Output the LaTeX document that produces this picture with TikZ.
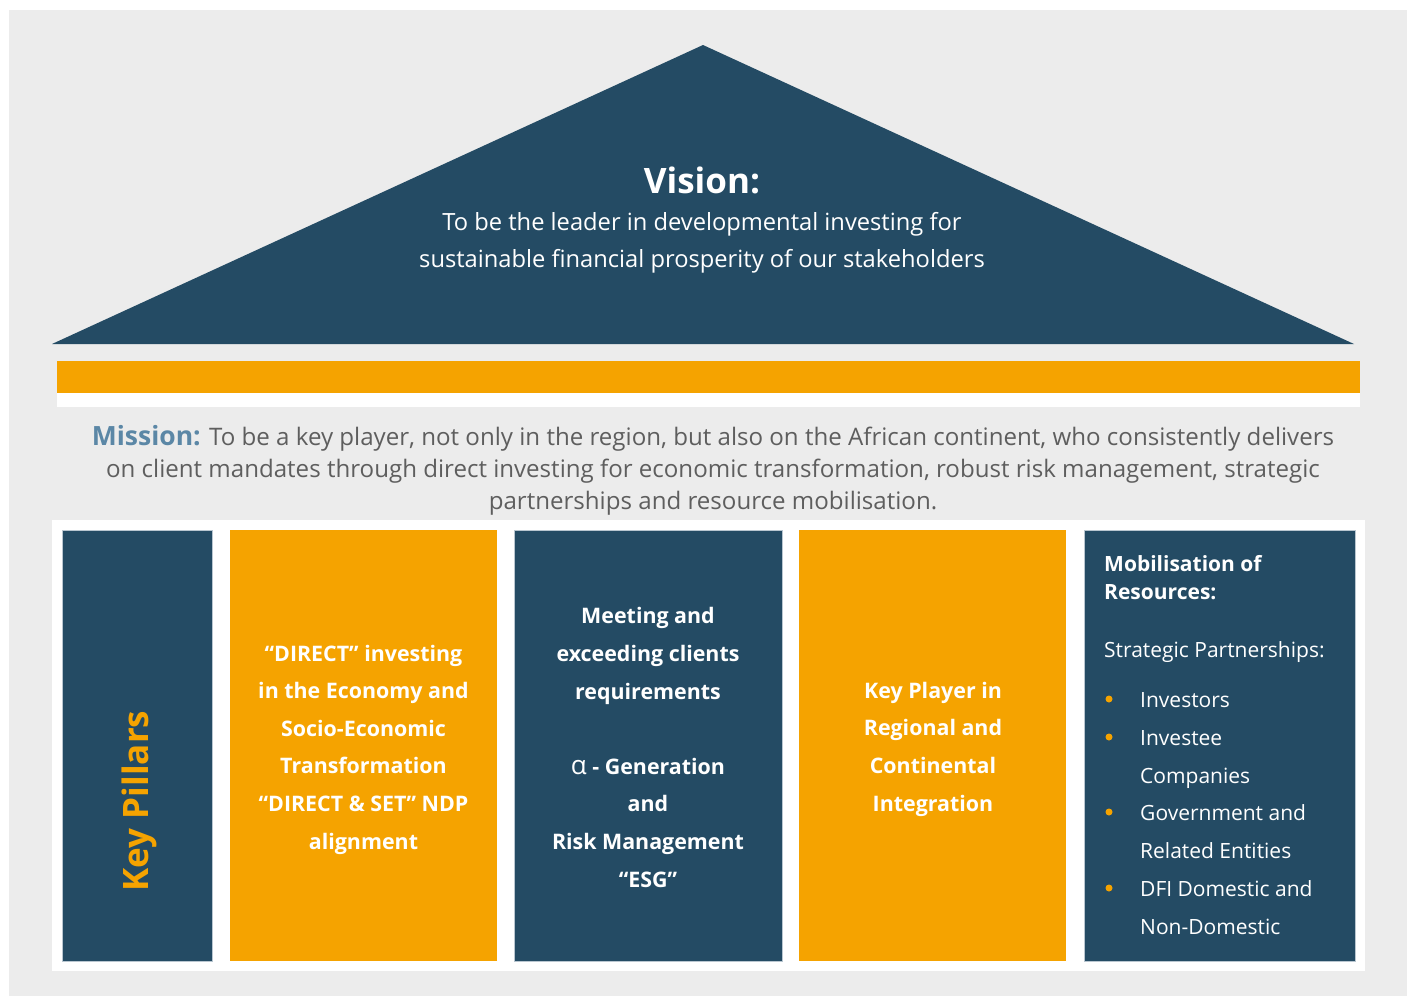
\documentclass[tikz,border=0pt]{standalone}
\usepackage{fontspec}
\setmainfont{Open Sans}
\definecolor{navy}{HTML}{244B64}
\definecolor{gold}{HTML}{F5A300}
\definecolor{bg}{HTML}{ECECEC}
\definecolor{mblue}{HTML}{5B87A6}
\definecolor{mgray}{HTML}{5E5E5E}
\definecolor{edge}{HTML}{B9C6D0}
\tikzset{
  darkpillar/.style={fill=navy,draw=edge,line width=0.8pt},
  goldpillar/.style={fill=gold},
  pilltext/.style={anchor=base,align=center,text=white,inner sep=0pt,font=\fontsize{21.4}{37.6}\selectfont\bfseries},
  listtext/.style={anchor=base west,align=left,text=white,inner sep=0pt,font=\fontsize{21}{37.8}\selectfont},
  bulletdot/.style={circle,fill=gold,inner sep=0pt,minimum size=7pt},
}
\begin{document}
\begin{tikzpicture}[x=1pt,y=-1pt]
\useasboundingbox (0,0) rectangle (1411,996);
\fill[white] (0,0) rectangle (1411,996);
\fill[bg] (9,10) rectangle (1407,996);
% roof
\fill[navy] (52,344) -- (703,45) -- (1354,344) -- cycle;
\node[anchor=base,text=white,inner sep=0pt,font=\fontsize{35}{40}\selectfont\bfseries] (vision) at (702,193) {Vision:};
\node[anchor=base,align=center,text=white,inner sep=0pt,font=\fontsize{23.7}{37}\selectfont] (visiontxt) at (702,267)
  {To be the leader in developmental investing for\\sustainable financial prosperity of our stakeholders};
% beam
\fill[white] (57,361) rectangle (1360,407);
\fill[gold] (57,361) rectangle (1360,393);
% mission
\node[anchor=base,align=center,text=mgray,inner sep=0pt,font=\fontsize{24.1}{32}\selectfont] (mission) at (713,509)
  {{\color{mblue}\bfseries\fontsize{26.5}{32}\selectfont Mission:} To be a key player, not only in the region, but also on the African continent, who consistently delivers\\
   on client mandates through direct investing for economic transformation, robust risk management, strategic\\
   partnerships and resource mobilisation.};
% base panel
\fill[white] (52,520) rectangle (1365,971);
\path[darkpillar] (62,530) rectangle (212,961);
\path[goldpillar] (230,530) rectangle (497,961);
\path[darkpillar] (514,530) rectangle (782,961);
\path[goldpillar] (799,530) rectangle (1066,961);
\path[darkpillar] (1084,530) rectangle (1355,961);
% key pillars
\node[rotate=90,text=gold,inner sep=0pt,font=\fontsize{35}{40}\selectfont\bfseries] (keyp) at (139,801) {Key Pillars};
% pillar 2
\node[pilltext] (p2) at (363.5,849)
  {“DIRECT” investing\\in the Economy and\\Socio-Economic\\Transformation\\“DIRECT \& SET” NDP\\alignment};
% pillar 3
\node[pilltext] (p3) at (648,887)
  {Meeting and\\exceeding clients\\requirements\\[37.6pt]{\fontsize{26}{37.6}\selectfont\mdseries α} - Generation\\and\\Risk Management\\“ESG”};
% pillar 4
\node[pilltext] (p4) at (933,811)
  {Key Player in\\Regional and\\Continental\\Integration};
% pillar 5
\node[anchor=base west,align=left,text=white,inner sep=0pt,font=\fontsize{21}{27.5}\selectfont\bfseries] (p5h) at (1104,599)
  {Mobilisation of\\Resources:};
\node[anchor=base west,text=white,inner sep=0pt,font=\fontsize{21}{27}\selectfont] (p5s) at (1104,657) {Strategic Partnerships:};
\node[listtext] (l1) at (1140,707) {Investors};
\node[listtext] (l2) at (1140,783) {Investee\\Companies};
\node[listtext] (l3) at (1140,858) {Government and\\Related Entities};
\node[listtext] (l4) at (1140,934) {DFI Domestic and\\Non-Domestic};
\node[bulletdot] (b1) at (1109,699) {};
\node[bulletdot] (b2) at (1109,737) {};
\node[bulletdot] (b3) at (1109,812) {};
\node[bulletdot] (b4) at (1109,888) {};
\end{tikzpicture}
\end{document}
